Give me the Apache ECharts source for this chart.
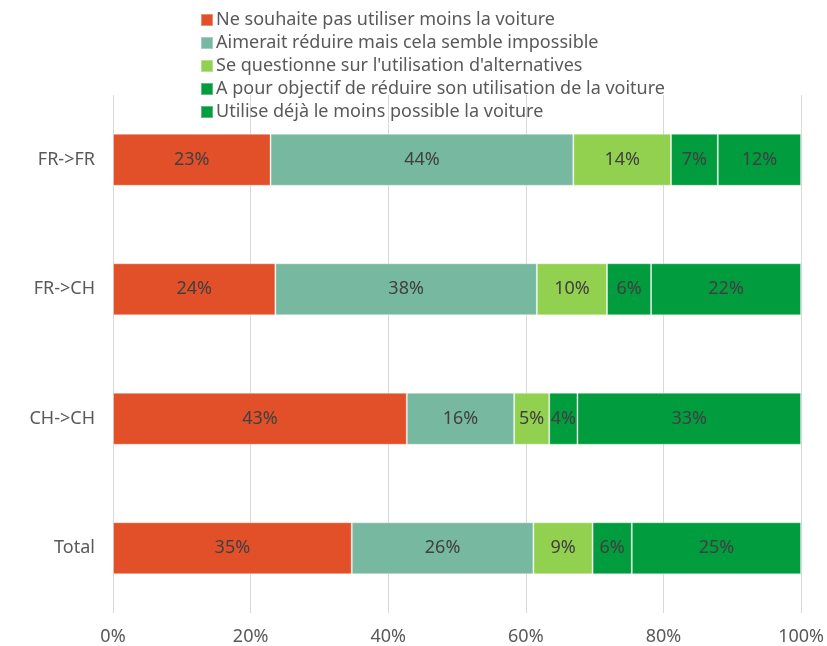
<!DOCTYPE html>
<html>
<head>
<meta charset="utf-8">
<script src="https://cdn.jsdelivr.net/npm/echarts@6/dist/echarts.min.js"></script>
<style>html,body{margin:0;padding:0;background:#fff}#c{width:827px;height:646px}</style>
</head>
<body>
<div id="c"></div>
<script>
const categories = ['FR->FR', 'FR->CH', 'CH->CH', 'Total'];
const seriesNames = [
  'Ne souhaite pas utiliser moins la voiture',
  'Aimerait réduire mais cela semble impossible',
  "Se questionne sur l'utilisation d'alternatives",
  'A pour objectif de réduire son utilisation de la voiture',
  'Utilise déjà le moins possible la voiture'
];
const neSouhaitePas = [22.9, 23.6, 42.7, 34.7];
const aimeraitReduire = [44.0, 38.0, 15.6, 26.4];
const seQuestionne = [14.2, 10.2, 5.1, 8.6];
const objectifReduire = [6.8, 6.4, 4.1, 5.7];
const dejaMoins = [12.1, 21.8, 32.5, 24.6];
const xTicks = [0, 20, 40, 60, 80, 100];

const allValues = [neSouhaitePas, aimeraitReduire, seQuestionne, objectifReduire, dejaMoins];
const colors = ['#E2502A', '#77B8A0', '#92D050', '#009C3D', '#009C3D'];
const FONT = 'Noto Sans';

const chart = echarts.init(document.getElementById('c'), null, {renderer: 'canvas'});
chart.setOption({
  animation: false,
  textStyle: {fontFamily: FONT},
  legend: {
    orient: 'vertical',
    left: 195,
    top: 6,
    itemWidth: 12,
    itemHeight: 12,
    itemGap: 5,
    icon: 'rect',
    textStyle: {fontFamily: FONT, fontSize: 18, color: '#595959', padding: [0, 0, 0, -2]},
    data: seriesNames
  },
  grid: {left: 113, right: 25, top: 95, bottom: 33},
  xAxis: {
    type: 'value',
    min: xTicks[0],
    max: xTicks[xTicks.length - 1],
    interval: 20,
    axisLine: {show: false},
    axisTick: {show: false},
    splitLine: {lineStyle: {color: '#D9D9D9', width: 1}},
    axisLabel: {fontFamily: FONT, fontSize: 18, color: '#595959', margin: 15, formatter: v => v + '%'}
  },
  yAxis: {
    type: 'category',
    inverse: true,
    data: categories,
    axisLine: {show: false},
    axisTick: {show: false},
    axisLabel: {fontFamily: FONT, fontSize: 18, color: '#595959', margin: 18}
  },
  series: allValues.map((vals, i) => ({
    name: seriesNames[i],
    type: 'bar',
    stack: 'total',
    barWidth: 52,
    data: vals,
    itemStyle: {color: colors[i], borderColor: 'rgba(255,255,255,0.35)', borderWidth: 1},
    label: {
      show: true,
      position: 'inside',
      fontFamily: FONT,
      fontSize: 18,
      color: '#404040',
      formatter: p => Math.round(p.value) + '%'
    }
  }))
});
</script>
</body>
</html>
